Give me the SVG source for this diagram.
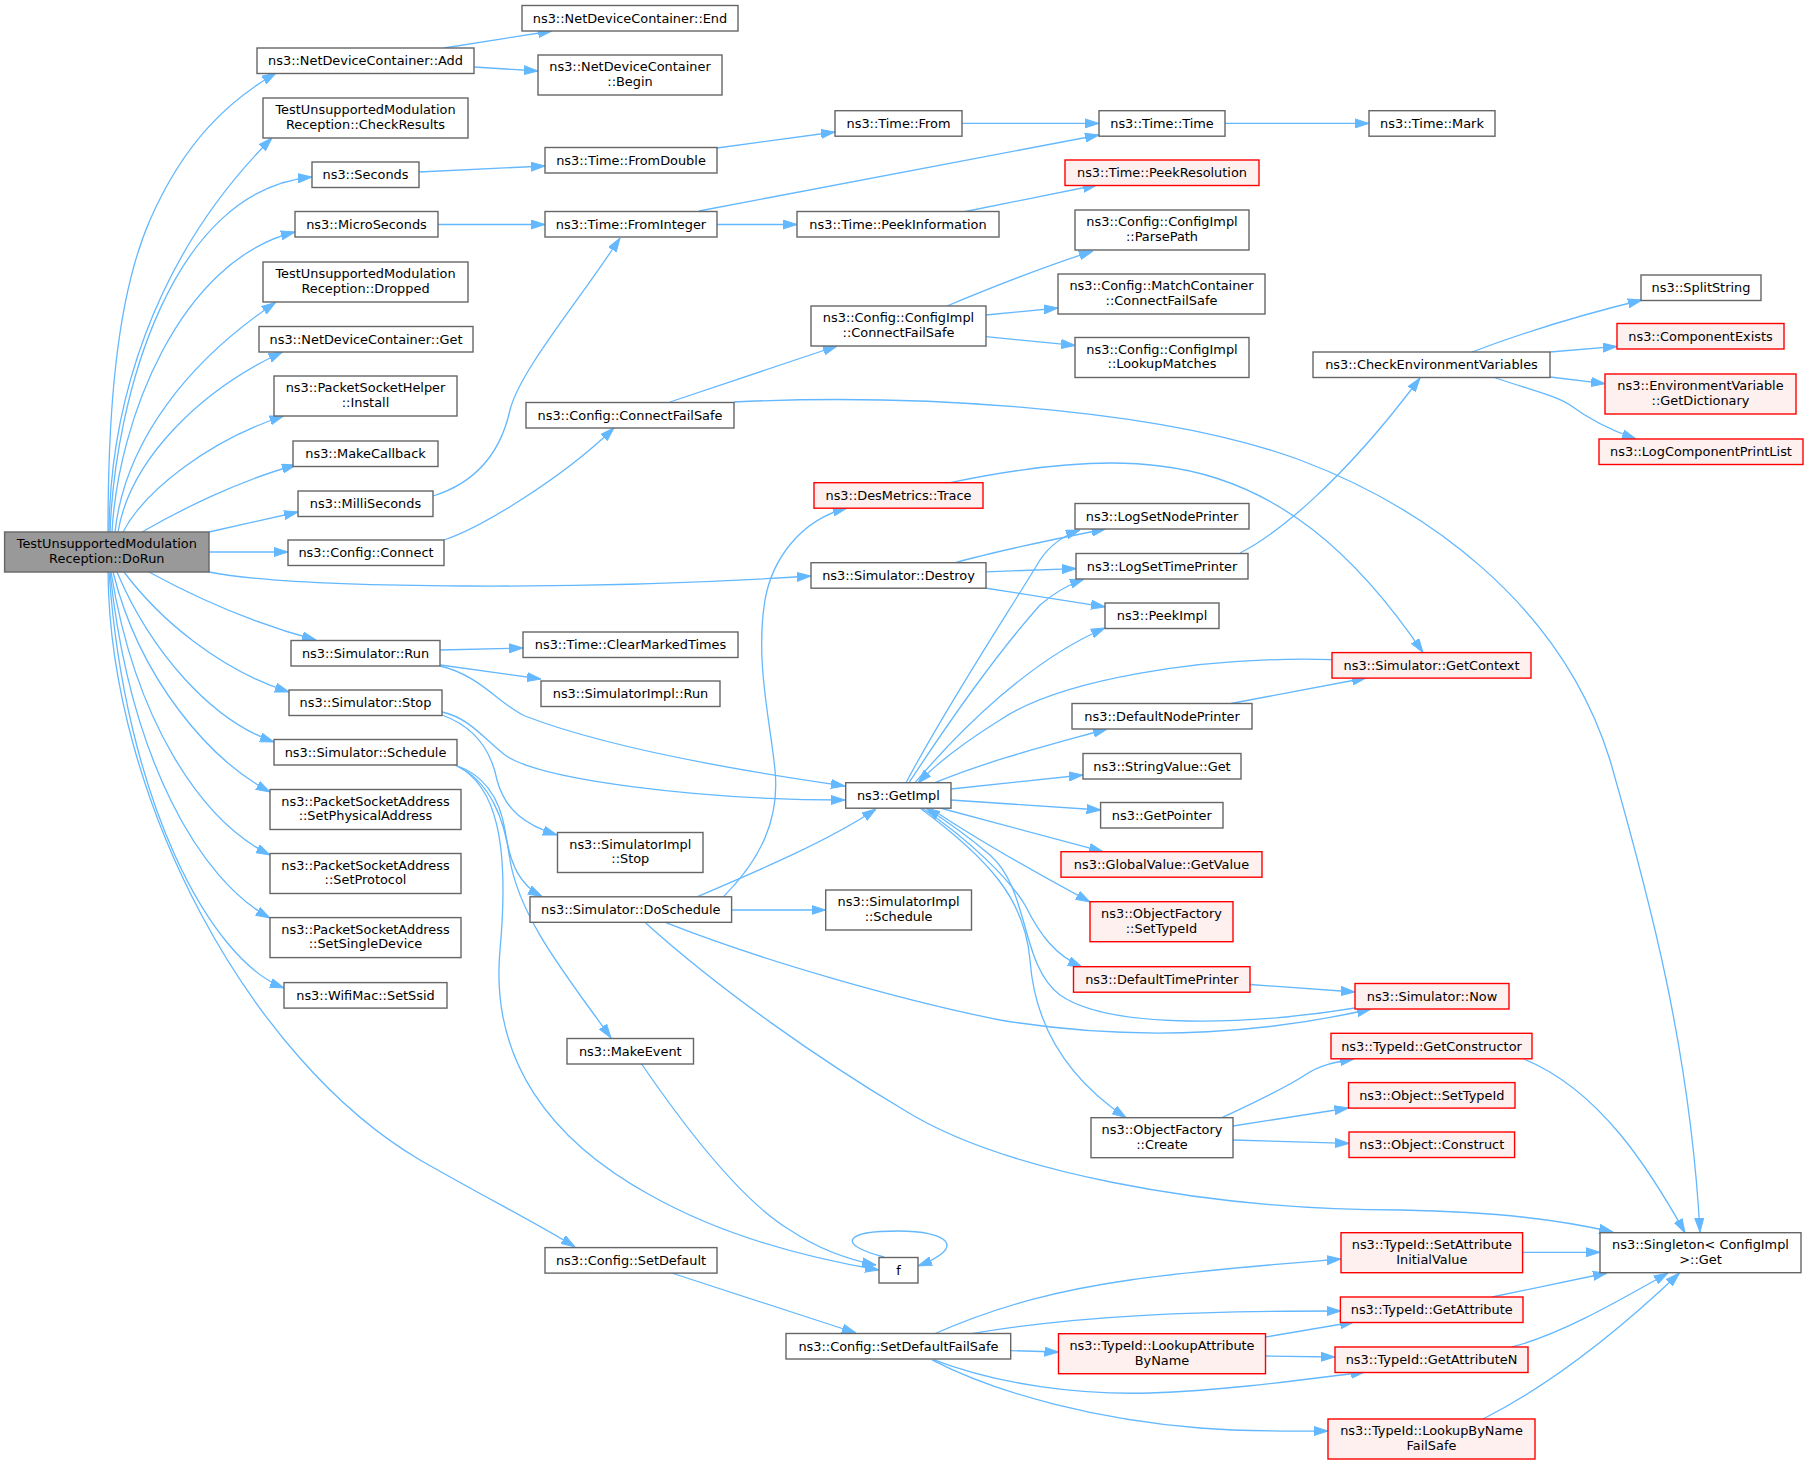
<svg xmlns="http://www.w3.org/2000/svg" width="1808" height="1465" viewBox="0 0 1808 1465">
<style>
text{font-family:"DejaVu Sans","Liberation Sans",sans-serif;font-size:12.9px;text-anchor:middle;fill:#000}
.n rect{fill:#fff;stroke:#666;stroke-width:1.4}
.r rect{fill:#fff0f0;stroke:#ff0000;stroke-width:1.4}
.root rect{fill:#999;stroke:#666;stroke-width:1.4}
#edges path{fill:none;stroke:#63b8ff;stroke-width:1.3;marker-end:url(#a)}
</style>
<defs>
<marker id="a" markerUnits="userSpaceOnUse" viewBox="0 0 14 10" markerWidth="14" markerHeight="10" refX="14" refY="5" orient="auto">
<path d="M0,0.5 L14,5 L0,9.5 z" fill="#63b8ff" stroke="#63b8ff" stroke-width="1"/>
</marker>
</defs>
<rect width="1808" height="1465" fill="#fff"/>
<g id="edges">
<path d="M108,532 C108,420 115,300 150,220 C185,140 230,100 276,73"/>
<path d="M109,532 C110,410 150,260 272,138"/>
<path d="M110,532 C115,400 170,190 312,177"/>
<path d="M112,532 C118,420 180,260 295,232"/>
<path d="M115,532 C125,440 190,360 275.6,302.5"/>
<path d="M118,532 C130,460 200,390 282.5,352"/>
<path d="M123,532 C145,490 210,440 283.6,416"/>
<path d="M142,532 C180,510 240,480 296,465"/>
<path d="M209,532 L298,512"/>
<path d="M209,552 L288,552"/>
<path d="M209,572 C300,590 600,590 811,576"/>
<path d="M149,572 C200,600 260,625 316,640"/>
<path d="M124,572 C160,620 220,670 289,692"/>
<path d="M117,572 C150,650 210,720 274,742"/>
<path d="M113,572 C140,680 210,760 270,792"/>
<path d="M111,572 C135,720 200,820 270,855"/>
<path d="M110,572 C130,760 200,880 270,918"/>
<path d="M109,572 C125,800 210,960 284,988"/>
<path d="M108,572 C110,800 250,1060 420,1160 C490,1200 540,1225 575,1247"/>
<path d="M444,48 L552,31"/>
<path d="M474,67 L538,71"/>
<path d="M419,172 L545,166"/>
<path d="M717,148 L835,132"/>
<path d="M962,123.4 L1099,123.4"/>
<path d="M1225,123.4 L1369,123.4"/>
<path d="M699,211 L1099,135"/>
<path d="M717,224.5 L797,224.5"/>
<path d="M963,212 L1097,185"/>
<path d="M438,224.5 L545,224.5"/>
<path d="M433,496 C475,483 500,455 510,410 C520,370 580,300 620,238"/>
<path d="M444,540 C480,528 560,480 614,428"/>
<path d="M670,402 L837,346"/>
<path d="M734,402 C900,394 1150,405 1300,460 C1420,505 1560,600 1610,760 C1650,900 1690,1050 1700,1232"/>
<path d="M947,306 C990,288 1040,268 1093,251"/>
<path d="M986,315 L1058,308"/>
<path d="M986,336.7 L1075,345.4"/>
<path d="M950,482.7 C1020,468 1100,458 1160,466 C1280,480 1360,560 1423,652.6"/>
<path d="M956,562.5 C1000,550 1060,538 1105.6,529"/>
<path d="M986,571.8 L1076,568.6"/>
<path d="M984.7,588 L1105,606.8"/>
<path d="M1240,553 C1275,535 1340,485 1420,378"/>
<path d="M1472,352 C1530,330 1580,315 1642,300"/>
<path d="M1550,352 L1617,346.4"/>
<path d="M1550,377 L1605,383.7"/>
<path d="M1493,377 C1530,390 1555,395 1570,405 C1590,420 1610,430 1636,439"/>
<path d="M906,782.7 C950,700 1010,610 1040,560 C1050,545 1065,535 1080,530"/>
<path d="M909,782.7 C950,720 1000,650 1040,605 C1055,592 1070,584 1084,579"/>
<path d="M915,782.7 C960,730 1030,660 1105,628"/>
<path d="M1332,659.6 C1200,656 1060,680 1000,720 C960,745 935,765 918,783"/>
<path d="M1231,703.5 L1366,678"/>
<path d="M935,782.7 C990,760 1050,745 1107,729"/>
<path d="M951,789 L1083,775"/>
<path d="M951,800 L1100.6,810"/>
<path d="M940,808 L1103,851.7"/>
<path d="M930,808 C970,835 1040,875 1090,902"/>
<path d="M922,808 C970,840 1010,880 1025,905 C1040,935 1055,955 1082,967"/>
<path d="M1355,1008 C1250,1025 1110,1030 1060,995 C1020,965 1030,890 990,855 C970,838 945,820 926,808"/>
<path d="M920,808 C990,860 1025,900 1030,960 C1035,1030 1070,1080 1126,1117.7"/>
<path d="M1250,984.5 L1355,992"/>
<path d="M666,922.7 C760,960 900,1000 1000,1020 C1150,1045 1280,1030 1371,1009"/>
<path d="M440,650 L523,648"/>
<path d="M440.5,665 L541,679"/>
<path d="M440,666 C480,675 500,705 525,716 C600,745 720,768 845,786"/>
<path d="M442,712 C470,718 485,740 505,755 C540,780 700,800 845,800"/>
<path d="M442,715 C470,725 490,745 497,780 C505,810 525,825 557,835"/>
<path d="M455,765 C485,775 500,800 505,830 C510,865 520,885 542,896.6"/>
<path d="M455,765 C490,780 505,820 510,860 C520,920 570,980 611,1038"/>
<path d="M457,766 C495,785 510,840 500,950 C490,1060 550,1140 650,1195 C730,1240 820,1260 879,1270"/>
<path d="M641.6,1064 C680,1120 740,1200 790,1230 C820,1250 850,1260 876,1265"/>
<path d="M884,1257 C835,1244 845,1231 898,1231 C948,1231 968,1247 918,1266"/>
<path d="M723.5,896.6 C760,860 780,820 775,770 C770,720 755,660 765,600 C772,560 800,520 847,508"/>
<path d="M697.6,896.6 C760,870 830,840 876,809"/>
<path d="M731.6,910 L825.6,910"/>
<path d="M645.7,923 C720,990 820,1060 904,1110 C1000,1170 1200,1210 1400,1210 C1500,1212 1560,1220 1613,1232"/>
<path d="M1222,1117.7 C1260,1100 1290,1085 1305,1075 C1320,1065 1335,1062 1354,1059"/>
<path d="M1233,1126 L1348.5,1108"/>
<path d="M1233,1140 L1349,1143.4"/>
<path d="M1523.8,1059 C1600,1090 1650,1170 1685,1232.7"/>
<path d="M671.6,1273 L856,1333"/>
<path d="M934,1334 C1000,1305 1060,1290 1130,1280 C1200,1270 1280,1264 1341,1259"/>
<path d="M971.5,1333.7 C1080,1315 1200,1311 1341,1311"/>
<path d="M1010.7,1350.6 L1058.5,1352"/>
<path d="M934,1359.8 C1000,1385 1080,1395 1150,1393 C1230,1390 1300,1380 1365,1372"/>
<path d="M932,1359.8 C1000,1395 1100,1420 1200,1428 C1250,1432 1290,1431 1328,1431"/>
<path d="M1265.5,1337 L1354,1322"/>
<path d="M1265.5,1356 L1335,1357"/>
<path d="M1522.6,1252.3 L1600,1252.3"/>
<path d="M1492,1297 L1607,1273"/>
<path d="M1512,1346.8 C1560,1335 1620,1300 1668,1273"/>
<path d="M1483,1419 C1560,1380 1630,1320 1679.5,1273"/>
</g>
<g id="root" class="root"><rect x="4.6" y="532" width="204.4" height="40"/><text x="106.8" y="548">TestUnsupportedModulation</text><text x="106.8" y="562.8">Reception::DoRun</text></g>
<g id="ndcAdd" class="n"><rect x="257" y="48" width="217" height="25.5"/><text x="365.5" y="65.3">ns3::NetDeviceContainer::Add</text></g>
<g id="ndcEnd" class="n"><rect x="522" y="5.5" width="216" height="25.5"/><text x="630" y="22.8">ns3::NetDeviceContainer::End</text></g>
<g id="ndcBegin" class="n"><rect x="538" y="55" width="184" height="40"/><text x="630" y="71">ns3::NetDeviceContainer</text><text x="630" y="85.8">::Begin</text></g>
<g id="checkResults" class="n"><rect x="263" y="98" width="205" height="40"/><text x="365.5" y="114">TestUnsupportedModulation</text><text x="365.5" y="128.8">Reception::CheckResults</text></g>
<g id="seconds" class="n"><rect x="312" y="162" width="107" height="25.5"/><text x="365.5" y="179.3">ns3::Seconds</text></g>
<g id="fromDouble" class="n"><rect x="545" y="147.5" width="172" height="25.5"/><text x="631" y="164.8">ns3::Time::FromDouble</text></g>
<g id="timeFrom" class="n"><rect x="835" y="110.7" width="127" height="25.5"/><text x="898.5" y="128">ns3::Time::From</text></g>
<g id="timeTime" class="n"><rect x="1099" y="110.7" width="126" height="25.5"/><text x="1162" y="128">ns3::Time::Time</text></g>
<g id="timeMark" class="n"><rect x="1369" y="110.7" width="126" height="25.5"/><text x="1432" y="128">ns3::Time::Mark</text></g>
<g id="peekRes" class="r"><rect x="1065" y="160" width="194" height="25.5"/><text x="1162" y="177.3">ns3::Time::PeekResolution</text></g>
<g id="microSeconds" class="n"><rect x="295" y="211.5" width="143" height="25.5"/><text x="366.5" y="228.8">ns3::MicroSeconds</text></g>
<g id="fromInteger" class="n"><rect x="545" y="211.5" width="172" height="25.5"/><text x="631" y="228.8">ns3::Time::FromInteger</text></g>
<g id="peekInfo" class="n"><rect x="797" y="211.5" width="202" height="25.5"/><text x="898" y="228.8">ns3::Time::PeekInformation</text></g>
<g id="dropped" class="n"><rect x="263" y="262" width="205" height="40"/><text x="365.5" y="278">TestUnsupportedModulation</text><text x="365.5" y="292.8">Reception::Dropped</text></g>
<g id="parsePath" class="n"><rect x="1075" y="210" width="174" height="40"/><text x="1162" y="226">ns3::Config::ConfigImpl</text><text x="1162" y="240.8">::ParsePath</text></g>
<g id="matchConnect" class="n"><rect x="1058" y="274" width="207" height="40"/><text x="1161.5" y="290">ns3::Config::MatchContainer</text><text x="1161.5" y="304.8">::ConnectFailSafe</text></g>
<g id="implConnect" class="n"><rect x="811" y="306" width="175" height="40"/><text x="898.5" y="322">ns3::Config::ConfigImpl</text><text x="898.5" y="336.8">::ConnectFailSafe</text></g>
<g id="lookupMatches" class="n"><rect x="1075" y="337.5" width="174" height="40"/><text x="1162" y="353.5">ns3::Config::ConfigImpl</text><text x="1162" y="368.3">::LookupMatches</text></g>
<g id="ndcGet" class="n"><rect x="259" y="326.5" width="214" height="25.5"/><text x="366" y="343.8">ns3::NetDeviceContainer::Get</text></g>
<g id="install" class="n"><rect x="274" y="376" width="183" height="40"/><text x="365.5" y="392">ns3::PacketSocketHelper</text><text x="365.5" y="406.8">::Install</text></g>
<g id="cfgConnectFailSafe" class="n"><rect x="526" y="402.5" width="208" height="25.5"/><text x="630" y="419.8">ns3::Config::ConnectFailSafe</text></g>
<g id="checkEnv" class="n"><rect x="1313" y="352" width="237" height="25.5"/><text x="1431.5" y="369.3">ns3::CheckEnvironmentVariables</text></g>
<g id="splitString" class="n"><rect x="1641" y="275" width="120" height="25.5"/><text x="1701" y="292.3">ns3::SplitString</text></g>
<g id="componentExists" class="r"><rect x="1617" y="323.5" width="167" height="25.5"/><text x="1700.5" y="340.8">ns3::ComponentExists</text></g>
<g id="getDictionary" class="r"><rect x="1605" y="374" width="191" height="40"/><text x="1700.5" y="390">ns3::EnvironmentVariable</text><text x="1700.5" y="404.8">::GetDictionary</text></g>
<g id="logCompPrint" class="r"><rect x="1599" y="439" width="204" height="25.5"/><text x="1701" y="456.3">ns3::LogComponentPrintList</text></g>
<g id="makeCallback" class="n"><rect x="293" y="441" width="145" height="25.5"/><text x="365.5" y="458.3">ns3::MakeCallback</text></g>
<g id="milliSeconds" class="n"><rect x="298" y="491" width="135" height="25.5"/><text x="365.5" y="508.3">ns3::MilliSeconds</text></g>
<g id="desTrace" class="r"><rect x="814" y="482.7" width="169" height="25.5"/><text x="898.5" y="500">ns3::DesMetrics::Trace</text></g>
<g id="logNode" class="n"><rect x="1075" y="503.5" width="174" height="25.5"/><text x="1162" y="520.8">ns3::LogSetNodePrinter</text></g>
<g id="cfgConnect" class="n"><rect x="288" y="540" width="156" height="25.5"/><text x="366" y="557.3">ns3::Config::Connect</text></g>
<g id="destroy" class="n"><rect x="811" y="562.7" width="175" height="25.5"/><text x="898.5" y="580">ns3::Simulator::Destroy</text></g>
<g id="logTime" class="n"><rect x="1076" y="553.5" width="172" height="25.5"/><text x="1162" y="570.8">ns3::LogSetTimePrinter</text></g>
<g id="peekImpl" class="n"><rect x="1105" y="603" width="114" height="25.5"/><text x="1162" y="620.3">ns3::PeekImpl</text></g>
<g id="getContext" class="r"><rect x="1332" y="652.6" width="199" height="25.5"/><text x="1431.5" y="669.9">ns3::Simulator::GetContext</text></g>
<g id="simRun" class="n"><rect x="291" y="640.5" width="149" height="25.5"/><text x="365.5" y="657.8">ns3::Simulator::Run</text></g>
<g id="clearMarked" class="n"><rect x="523" y="632" width="215" height="25.5"/><text x="630.5" y="649.3">ns3::Time::ClearMarkedTimes</text></g>
<g id="implRun" class="n"><rect x="541" y="681" width="179" height="25.5"/><text x="630.5" y="698.3">ns3::SimulatorImpl::Run</text></g>
<g id="simStop" class="n"><rect x="289" y="690" width="153" height="25.5"/><text x="365.5" y="707.3">ns3::Simulator::Stop</text></g>
<g id="defaultNode" class="n"><rect x="1072" y="703.5" width="180" height="25.5"/><text x="1162" y="720.8">ns3::DefaultNodePrinter</text></g>
<g id="schedule" class="n"><rect x="274" y="739.5" width="183" height="25.5"/><text x="365.5" y="756.8">ns3::Simulator::Schedule</text></g>
<g id="stringGet" class="n"><rect x="1083" y="753.5" width="158" height="25.5"/><text x="1162" y="770.8">ns3::StringValue::Get</text></g>
<g id="getImpl" class="n"><rect x="845.7" y="782.7" width="105.3" height="25.5"/><text x="898.4" y="800">ns3::GetImpl</text></g>
<g id="setPhys" class="n"><rect x="270" y="789.5" width="191" height="40"/><text x="365.5" y="805.5">ns3::PacketSocketAddress</text><text x="365.5" y="820.3">::SetPhysicalAddress</text></g>
<g id="getPointer" class="n"><rect x="1100.6" y="802.5" width="122.4" height="25.5"/><text x="1161.8" y="819.8">ns3::GetPointer</text></g>
<g id="implStop" class="n"><rect x="557.5" y="832.5" width="145.5" height="40"/><text x="630.3" y="848.5">ns3::SimulatorImpl</text><text x="630.3" y="863.3">::Stop</text></g>
<g id="globalValue" class="r"><rect x="1061" y="851.7" width="201" height="25.5"/><text x="1161.5" y="869">ns3::GlobalValue::GetValue</text></g>
<g id="setProtocol" class="n"><rect x="270" y="853.5" width="191" height="40"/><text x="365.5" y="869.5">ns3::PacketSocketAddress</text><text x="365.5" y="884.3">::SetProtocol</text></g>
<g id="doSchedule" class="n"><rect x="530" y="896.8" width="201.6" height="25.5"/><text x="630.8" y="914.1">ns3::Simulator::DoSchedule</text></g>
<g id="implSchedule" class="n"><rect x="825.7" y="890" width="145.8" height="40"/><text x="898.6" y="906">ns3::SimulatorImpl</text><text x="898.6" y="920.8">::Schedule</text></g>
<g id="ofSetTypeId" class="r"><rect x="1090" y="901.7" width="143" height="40"/><text x="1161.5" y="917.7">ns3::ObjectFactory</text><text x="1161.5" y="932.5">::SetTypeId</text></g>
<g id="setSingle" class="n"><rect x="270" y="917.6" width="191" height="40"/><text x="365.5" y="933.6">ns3::PacketSocketAddress</text><text x="365.5" y="948.4">::SetSingleDevice</text></g>
<g id="defaultTime" class="r"><rect x="1073.5" y="966.7" width="176.5" height="25.5"/><text x="1161.8" y="984">ns3::DefaultTimePrinter</text></g>
<g id="simNow" class="r"><rect x="1355" y="983.5" width="154" height="25.5"/><text x="1432" y="1000.8">ns3::Simulator::Now</text></g>
<g id="setSsid" class="n"><rect x="284" y="982.6" width="163" height="25.5"/><text x="365.5" y="999.9">ns3::WifiMac::SetSsid</text></g>
<g id="getConstructor" class="r"><rect x="1331" y="1033.3" width="201" height="25.5"/><text x="1431.5" y="1050.6">ns3::TypeId::GetConstructor</text></g>
<g id="makeEvent" class="n"><rect x="567" y="1038.5" width="126.5" height="25.5"/><text x="630.3" y="1055.8">ns3::MakeEvent</text></g>
<g id="objSetTypeId" class="r"><rect x="1348.5" y="1082.6" width="166.5" height="25.5"/><text x="1431.8" y="1099.9">ns3::Object::SetTypeId</text></g>
<g id="ofCreate" class="n"><rect x="1091" y="1117.7" width="142" height="40"/><text x="1162" y="1133.7">ns3::ObjectFactory</text><text x="1162" y="1148.5">::Create</text></g>
<g id="objConstruct" class="r"><rect x="1349" y="1132" width="165.6" height="25.5"/><text x="1431.8" y="1149.3">ns3::Object::Construct</text></g>
<g id="singleton" class="n"><rect x="1600" y="1232.7" width="201" height="40"/><text x="1700.5" y="1248.7">ns3::Singleton&lt; ConfigImpl</text><text x="1700.5" y="1263.5">&gt;::Get</text></g>
<g id="setAttrInit" class="r"><rect x="1341" y="1232.7" width="181.6" height="40"/><text x="1431.8" y="1248.7">ns3::TypeId::SetAttribute</text><text x="1431.8" y="1263.5">InitialValue</text></g>
<g id="setDefault" class="n"><rect x="545" y="1247.6" width="172" height="25.5"/><text x="631" y="1264.9">ns3::Config::SetDefault</text></g>
<g id="f" class="n"><rect x="879" y="1257.5" width="39" height="25.5"/><text x="898.5" y="1274.8">f</text></g>
<g id="getAttribute" class="r"><rect x="1340.4" y="1297" width="182.6" height="25.5"/><text x="1431.7" y="1314.3">ns3::TypeId::GetAttribute</text></g>
<g id="setDefaultFailSafe" class="n"><rect x="786" y="1333.5" width="224.7" height="25.5"/><text x="898.4" y="1350.8">ns3::Config::SetDefaultFailSafe</text></g>
<g id="lookupAttr" class="r"><rect x="1058.5" y="1333.7" width="207" height="40"/><text x="1162" y="1349.7">ns3::TypeId::LookupAttribute</text><text x="1162" y="1364.5">ByName</text></g>
<g id="getAttributeN" class="r"><rect x="1335" y="1347" width="193" height="25.5"/><text x="1431.5" y="1364.3">ns3::TypeId::GetAttributeN</text></g>
<g id="lookupByName" class="r"><rect x="1328" y="1419" width="207" height="40"/><text x="1431.5" y="1435">ns3::TypeId::LookupByName</text><text x="1431.5" y="1449.8">FailSafe</text></g>
</svg>
